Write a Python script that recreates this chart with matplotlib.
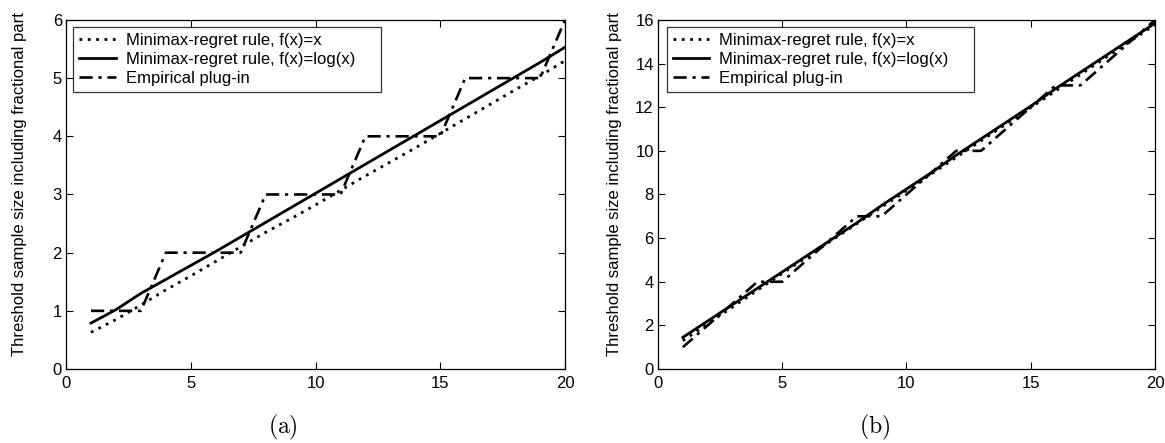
import matplotlib
matplotlib.use('Agg')
import matplotlib.pyplot as plt

plt.rcParams['font.family'] = ['Liberation Sans', 'DejaVu Sans']
plt.rcParams['mathtext.fontset'] = 'cm'

x = list(range(1, 21))

# panel (a)
a_linear = [0.63, 0.85, 1.1, 1.36, 1.6, 1.85, 2.1, 2.35, 2.58, 2.82,
            3.07, 3.32, 3.56, 3.8, 4.05, 4.3, 4.55, 4.8, 5.04, 5.3]
a_log = [0.79, 1.02, 1.3, 1.54, 1.78, 2.02, 2.27, 2.52, 2.77, 3.02,
         3.27, 3.52, 3.77, 4.02, 4.27, 4.52, 4.77, 5.02, 5.27, 5.53]
a_emp = [1, 1, 1, 2, 2, 2, 2, 3, 3, 3, 3, 4, 4, 4, 4, 5, 5, 5, 5, 6]

# panel (b)
b_linear = [1.3, 2.07, 2.84, 3.61, 4.38, 5.14, 5.9, 6.66, 7.42, 8.18,
            8.94, 9.7, 10.46, 11.22, 11.98, 12.74, 13.5, 14.26, 15.02, 15.78]
b_log = [1.45, 2.2, 2.95, 3.7, 4.45, 5.2, 5.95, 6.7, 7.5, 8.25,
         9.0, 9.8, 10.55, 11.3, 12.05, 12.85, 13.6, 14.35, 15.1, 15.85]
b_emp = [1, 2, 3, 4, 4, 5, 6, 7, 7, 8, 9, 10, 10, 11, 12, 13, 13, 14, 15, 16]

labels = ['Minimax-regret rule, f(x)=x',
          'Minimax-regret rule, f(x)=log(x)',
          'Empirical plug-in']

fig = plt.figure(figsize=(11.65, 4.43), dpi=100)
ax1 = fig.add_axes([0.0567, 0.167, 0.4283, 0.788])
ax2 = fig.add_axes([0.5648, 0.167, 0.4266, 0.788])

panels = [(ax1, a_linear, a_log, a_emp, 6, [0, 1, 2, 3, 4, 5, 6], '(a)', -0.079, 0.014),
          (ax2, b_linear, b_log, b_emp, 16, [0, 2, 4, 6, 8, 10, 12, 14, 16], '(b)', -0.072, 0.018)]

for ax, lin, lg, emp, ymax, yt, tag, ylx, lgx in panels:
    ax.plot(x, lin, color='black', linestyle=(0, (1, 2)), linewidth=2.0, label=labels[0])
    ax.plot(x, lg, color='black', linestyle='-', linewidth=2.0, label=labels[1])
    ax.plot(x, emp, color='black', linestyle=(0, (5, 2.2, 1.2, 2.2)), linewidth=1.9, label=labels[2])
    ax.set_xlim(0, 20)
    ax.set_ylim(0, ymax)
    ax.set_xticks([0, 5, 10, 15, 20])
    ax.set_yticks(yt)
    ax.tick_params(direction='in', top=True, right=True, length=5, width=0.8,
                   labelsize=12)
    ax.tick_params(axis='y', pad=3)
    ax.tick_params(axis='x', pad=5)
    for s in ax.spines.values():
        s.set_linewidth(0.9)
    ax.set_ylabel('Threshold sample size including fractional part', fontsize=12)
    ax.yaxis.set_label_coords(ylx, 0.53)
    leg = ax.legend(loc='upper left', bbox_to_anchor=(lgx, 0.79, 0.617, 0.19),
                    mode='expand', borderaxespad=0, fontsize=12, frameon=True,
                    fancybox=False, edgecolor='black', handlelength=2.2,
                    borderpad=0.35, labelspacing=0.25, handletextpad=0.6)
    leg.get_frame().set_linewidth(0.9)
    ax.text(0.435, -0.166, r'$\mathrm{' + tag + '}$', transform=ax.transAxes,
            ha='center', va='center', fontsize=17)

fig.savefig('out.png', dpi=100)
